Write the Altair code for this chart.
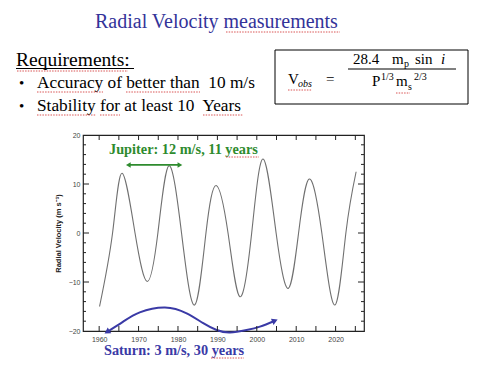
import altair as alt
import pandas as pd

# ---------------- data ----------------
jup_year = [1960.1, 1963.4, 1965.8, 1969.1, 1972.2, 1974.9, 1977.7, 1980.9, 1984.2,
            1987.1, 1989.7, 1992.7, 1995.7, 1998.7, 2001.6, 2004.9, 2008.0, 2010.6, 2013.3,
            2016.5, 2019.8, 2022.6, 2025.2]
jup_vel = [-15.0, 0.0, 12.2, 0.0, -9.9, 0.0, 13.7, 0.0, -14.7,
           0.0, 9.7, 0.0, -13.0, 0.0, 15.1, 0.0, -11.3, 0.0, 11.0,
           0.0, -14.7, 0.0, 12.5]

sat_year = [1962.0, 1966.1, 1970.3, 1976.7, 1982.2, 1986.4, 1989.8, 1993.2, 1997.4, 2000.8, 2004.6]
sat_vel = [-20.2, -18.1, -16.2, -15.2, -16.4, -18.4, -19.8, -20.3, -19.8, -19.1, -17.9]

jup_arrow_year = [1967.4, 1980.5]
jup_arrow_vel = [13.9, 13.9]

x_labels = [1960, 1970, 1980, 1990, 2000, 2010, 2020]
x_ticks = [1960, 1965, 1970, 1975, 1980, 1985, 1990, 1995, 2000, 2005, 2010, 2015, 2020, 2025]
y_labels = [-20, -10, 0, 10, 20]
y_major = [-10, 0, 10]
y_minor = [-18, -16, -14, -12, -8, -6, -4, -2, 2, 4, 6, 8, 12, 14, 16, 18]

# ---------------- layout ----------------
W, H = 281, 196
OX, OY = 83, 135          # page position of the plot area's top-left corner
SERIF = "Liberation Serif"
SANS = "Liberation Sans"
BLUE = "#333399"
SAT_BLUE = "#3a3aa6"
GREEN = "#2e8b2e"
SQUIG = "#d95555"

xs = alt.Scale(domain=[1955.9, 2027.2], nice=False, zero=False)
ys = alt.Scale(domain=[-20, 20], nice=False, zero=False)
AX = alt.Axis(values=x_labels, format="d", ticks=False, domain=False, grid=False, title=None,
              labelFont=SANS, labelFontSize=7, labelColor="#444", labelPadding=4)
AY = alt.Axis(values=y_labels, ticks=False, domain=False, grid=False,
              title="Radial Velocity (m s\u207b\u00b9)", titleFont=SANS, titleFontSize=7.5,
              titleFontWeight="bold", titleColor="#222", titlePadding=6,
              labelFont=SANS, labelFontSize=7, labelColor="#444", labelPadding=3)
XE = alt.X("year:Q", scale=xs, axis=AX)
YE = alt.Y("v:Q", scale=ys, axis=AY)


def T(text, px, py, size, color="black", weight="normal", font=SERIF, style="normal", align="left"):
    return alt.Chart(pd.DataFrame({"t": [text]})).mark_text(
        align=align, baseline="alphabetic", fontSize=size, font=font,
        fontWeight=weight, fontStyle=style, color=color
    ).encode(x=alt.value(px - OX), y=alt.value(py - OY), text="t:N")


def R(px1, py1, px2, py2, color="black", width=1.0, dash=None):
    kw = dict(color=color, strokeWidth=width)
    if dash:
        kw["strokeDash"] = dash
    return alt.Chart(pd.DataFrame({"a": [0]})).mark_rule(**kw).encode(
        x=alt.value(px1 - OX), x2=alt.value(px2 - OX),
        y=alt.value(py1 - OY), y2=alt.value(py2 - OY))


def SQ(px1, px2, py):
    return R(px1, py, px2, py, color=SQUIG, width=1, dash=[1.5, 1.2])


jup = pd.DataFrame({"year": jup_year, "v": jup_vel})
sat = pd.DataFrame({"year": sat_year, "v": sat_vel})

curve = alt.Chart(jup).mark_line(color="#707070", strokeWidth=1.1, interpolate="natural").encode(x=XE, y=YE)

saturn = alt.Chart(sat).mark_line(color=SAT_BLUE, strokeWidth=2, interpolate="natural").encode(x=XE, y=YE)

sat_heads = alt.Chart(pd.DataFrame({
    "year": [sat_year[0], sat_year[-1]], "v": [sat_vel[0], sat_vel[-1]], "ang": [238, 68]
})).mark_point(shape="triangle-up", filled=True, size=45, color=SAT_BLUE, opacity=1).encode(
    x=XE, y=YE, angle=alt.Angle("ang:Q", scale=None))

jarrow_df = pd.DataFrame({"year": jup_arrow_year, "v": jup_arrow_vel, "ang": [270, 90]})
jarrow = alt.Chart(jarrow_df).mark_line(color=GREEN, strokeWidth=1.6).encode(x=XE, y=YE)
jheads = alt.Chart(jarrow_df).mark_point(shape="triangle-up", filled=True, size=30, color=GREEN, opacity=1).encode(
    x=XE, y=YE, angle=alt.Angle("ang:Q", scale=None))

# inward ticks
xt = pd.DataFrame({"year": x_ticks})
top_t = alt.Chart(xt).mark_rule(color="#222", strokeWidth=1).encode(x=XE, y=alt.value(0), y2=alt.value(5))
bot_t = alt.Chart(xt).mark_rule(color="#222", strokeWidth=1).encode(x=XE, y=alt.value(H), y2=alt.value(H - 5))
ymaj = pd.DataFrame({"v": y_major})
ymin = pd.DataFrame({"v": y_minor})
left_maj = alt.Chart(ymaj).mark_rule(color="#222", strokeWidth=1).encode(y=YE, x=alt.value(0), x2=alt.value(6))
left_min = alt.Chart(ymin).mark_rule(color="#222", strokeWidth=1).encode(y=YE, x=alt.value(0), x2=alt.value(3))
right_maj = alt.Chart(ymaj).mark_rule(color="#222", strokeWidth=1).encode(y=YE, x=alt.value(W), x2=alt.value(W - 6))
right_min = alt.Chart(ymin).mark_rule(color="#222", strokeWidth=1).encode(y=YE, x=alt.value(W), x2=alt.value(W - 3))

NB = "\u00a0"
texts = [
    T("Radial Velocity measurements", 95, 28, 20, color=BLUE),
    T("Requirements:", 16, 66, 19.5),
    T("\u2022", 19, 88, 15),
    T("Accuracy of better than" + NB + " 10 m/s", 37, 88, 17.3),
    T("\u2022", 19, 111, 15),
    T("Stability for at least 10" + NB + " Years", 37, 111, 17.3),
    # formula
    T("V", 288, 84, 15),
    T("obs", 298, 87, 10, style="italic"),
    T("=", 326, 84, 15),
    T("28.4", 353, 64, 15),
    T("m", 392, 64, 15),
    T("p", 404, 67, 10),
    T("sin", 415, 64, 15),
    T("i", 441, 64, 15, style="italic"),
    T("P", 372, 86, 15),
    T("1/3", 381, 80, 10),
    T("m", 396, 86, 15),
    T("s", 408, 90, 10),
    T("2/3", 414, 80, 10),
    # annotations
    T("Jupiter: 12 m/s, 11 years", 109, 154, 14.3, color=GREEN, weight="bold"),
    T("Saturn: 3 m/s, 30 years", 104, 355, 14.3, color=SAT_BLUE, weight="bold"),
]
rules = [
    R(16, 68.5, 134, 68.5, width=1),      # underline of Requirements
    R(348, 69, 456, 69, width=1),         # fraction bar
    # formula box
    R(275, 50, 468, 50), R(275, 104, 468, 104), R(275, 50, 275, 104), R(468, 50, 468, 104),
    # spell-check squiggles seen in the slide
    SQ(226, 340, 32), SQ(17, 128, 71), SQ(37, 103, 92), SQ(126, 200, 92),
    SQ(37, 96, 115), SQ(100, 120, 115), SQ(203, 243, 115),
    SQ(288, 312, 90), SQ(396, 410, 93),
    SQ(226, 259, 157), SQ(211, 244, 358),
]

chart = alt.layer(
    curve, saturn, sat_heads, jarrow, jheads,
    top_t, bot_t, left_maj, left_min, right_maj, right_min,
    *texts, *rules
).properties(
    width=W, height=H,
    padding={"left": OX - 8, "top": OY - 8, "right": 480 - 16 - (OX - 8) - W, "bottom": 378 - 16 - (OY - 8) - H},
    autosize=alt.AutoSizeParams(type="none"),
    background="white",
).configure_view(stroke="#222", strokeWidth=1.2)

chart.save("out.html", embed_options={"renderer": "svg", "actions": False})
